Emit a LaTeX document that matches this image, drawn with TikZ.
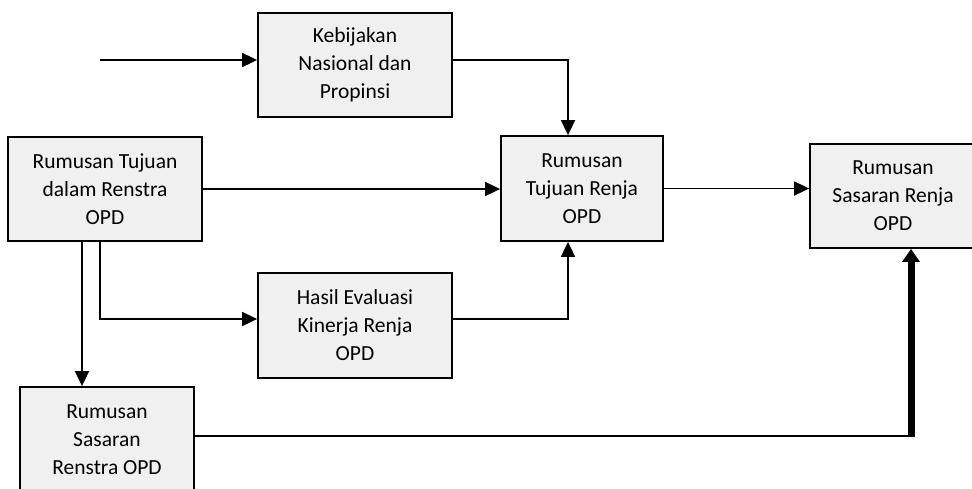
\documentclass[tikz,border=0pt]{standalone}
\usepackage{fontspec}
\setmainfont{Carlito}
\usepackage{xcolor}
\usepackage{tikz}
\usetikzlibrary{arrows.meta,calc,positioning}
\definecolor{boxgray}{HTML}{F0F0F0}

\begin{document}
\begin{tikzpicture}[x=1pt,y=-1pt,
  box/.style={draw,fill=boxgray,line width=1.8pt,align=center,inner sep=0pt,minimum height=104pt,font=\fontsize{21.5}{28}\selectfont},
  link/.style={line width=1.8pt,-{Triangle[length=15pt,width=14pt]}}]

\useasboundingbox (0,0) rectangle (972,488);

\node[box,minimum width=194pt](keb) at (355,65) {Kebijakan\\Nasional dan\\Propinsi};
\node[box,minimum width=194pt](tujRenstra) at (105,189) {Rumusan Tujuan\\dalam Renstra\\OPD};
\node[box,minimum width=162pt,minimum height=105pt](tujRenja) at (582,188.5) {Rumusan\\Tujuan Renja\\OPD};
\node[box,minimum width=166pt](sasRenja) at (893,196) {Rumusan\\Sasaran Renja\\OPD};
\node[box,minimum width=194pt,minimum height=105pt](hasil) at (355,325.5) {Hasil Evaluasi\\Kinerja Renja\\OPD};
\node[box,minimum width=174pt,minimum height=106pt](sasRenstra) at (107,440) {Rumusan\\Sasaran\\Renstra OPD};

\coordinate (start) at (100,60);
\coordinate (bend) at (911,436);

\draw[link] (start) -- (start -| keb.west);
\draw[link] (keb.east |- start) -| ([xshift=-14pt]tujRenja.north);
\draw[link] (tujRenstra.east) -- (tujRenstra.east -| tujRenja.west);
\draw[link] (tujRenja.east) -- (tujRenja.east -| sasRenja.west);
\draw[link] ([xshift=-23pt]tujRenstra.south) -- ([xshift=-23pt]tujRenstra.south |- sasRenstra.north);
\draw[link] ([xshift=-5pt]tujRenstra.south) |- ([yshift=6.5pt]hasil.west);
\draw[link] ([yshift=6.5pt]hasil.east) -| ([xshift=-14pt]tujRenja.south);
\draw[line width=1.8pt] ([yshift=4pt]sasRenstra.east) -- (bend);
\draw[line width=7pt,-{Triangle[length=13pt,width=17pt]}] ([yshift=-1pt]bend) -- (bend |- sasRenja.south);

\end{tikzpicture}
\end{document}
